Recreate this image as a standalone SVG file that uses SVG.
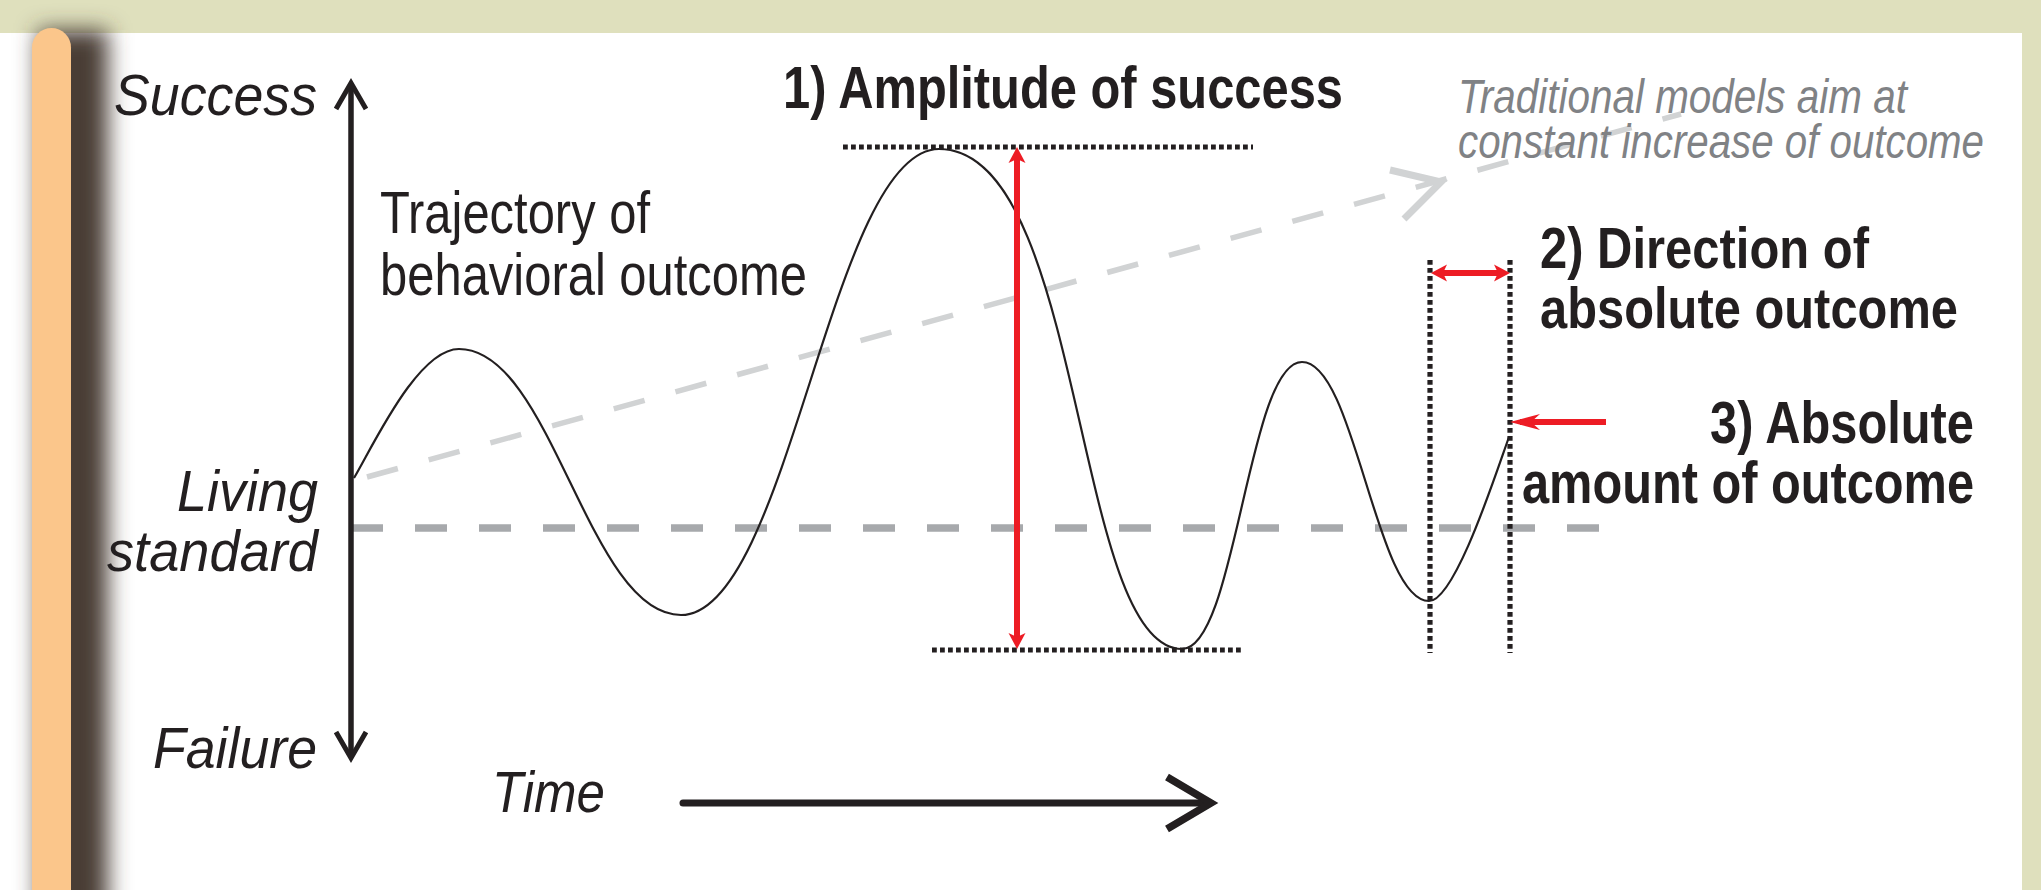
<svg xmlns="http://www.w3.org/2000/svg" width="2041" height="890" viewBox="0 0 2041 890">
<style>
.t{font-family:"Liberation Sans",Arial,sans-serif;fill:#231f20}
.it{font-style:italic}
.b{font-weight:bold}
.gray{fill:#808285}
.dot{stroke:#231f20;stroke-width:5.2;stroke-dasharray:4.8 3.2;fill:none}
.red{stroke:#ed1c24;stroke-width:6;fill:none}
</style>
<defs>
<filter id="blur" x="-100%" y="-10%" width="300%" height="120%"><feGaussianBlur stdDeviation="11"/></filter>
<marker id="chev" markerUnits="userSpaceOnUse" orient="auto-start-reverse" refX="0" refY="0" markerWidth="40" markerHeight="40" overflow="visible">
<path d="M-26,-15 L0,0 L-26,15" fill="none" stroke="#231f20" stroke-width="5"/>
</marker>
<marker id="redHead" markerUnits="userSpaceOnUse" orient="auto-start-reverse" refX="0" refY="0" markerWidth="40" markerHeight="40" overflow="visible">
<path d="M10,0 L-6,-8.5 L-2,0 L-6,8.5 Z" fill="#ed1c24"/>
</marker>
<marker id="redLong" markerUnits="userSpaceOnUse" orient="auto" refX="0" refY="0" markerWidth="50" markerHeight="40" overflow="visible">
<path d="M10,0 L-20,-8 L-11,0 L-20,8 Z" fill="#ed1c24"/>
</marker>
</defs>

<g id="background">
<rect x="0" y="0" width="2041" height="890" fill="#ffffff"/>
<rect x="0" y="0" width="2041" height="33" fill="#dfe0bd"/>
<rect x="2022" y="0" width="19" height="890" fill="#dfe0bd"/>
<rect x="38" y="30" width="70" height="900" fill="#4a3c34" filter="url(#blur)"/>
<rect x="32" y="28" width="39" height="880" rx="19.5" fill="#fbc68b"/>
</g>

<g id="connectors">
<line x1="351" y1="528" x2="1599" y2="528" stroke="#a7a9ac" stroke-width="7.5" stroke-dasharray="32 32"/>
<line x1="367" y1="477" x2="1681" y2="114" stroke="#d1d3d4" stroke-width="5.5" stroke-dasharray="32 32"/>
<polyline points="1390,170 1441,182 1404,219" fill="none" stroke="#d1d3d4" stroke-width="7"/>
<path id="trajectory" d="M354,478 C374,444 418,349 459,349 C552,349 588,615 681,615 C789,615 831,149 939,149 C1085,149 1073,649 1182,649 C1236,649 1248,362 1302,362 C1355,362 1376,601 1429,601 C1455,601 1496,473 1509,437" fill="none" stroke="#231f20" stroke-width="2.2"/>
<line class="dot" x1="843" y1="147" x2="1253" y2="147"/>
<line class="dot" x1="932" y1="650" x2="1242" y2="650"/>
<line class="dot" x1="1430" y1="260" x2="1430" y2="653"/>
<line class="dot" x1="1510" y1="260" x2="1510" y2="653"/>
<line class="red" x1="1017" y1="157" x2="1017" y2="639" marker-start="url(#redHead)" marker-end="url(#redHead)"/>
<line class="red" x1="1441" y1="273" x2="1500" y2="273" stroke-width="5" marker-start="url(#redHead)" marker-end="url(#redHead)"/>
<line class="red" x1="1606" y1="422" x2="1520" y2="422" stroke-width="5.5" marker-end="url(#redLong)"/>
<line x1="351" y1="83" x2="351" y2="758" stroke="#231f20" stroke-width="5.5" marker-start="url(#chev)" marker-end="url(#chev)"/>
<line x1="683" y1="803" x2="1208" y2="803" stroke="#231f20" stroke-width="7" stroke-linecap="round"/>
<polyline points="1167,777 1211,803 1167,829" fill="none" stroke="#231f20" stroke-width="7.5"/>
</g>

<g id="axis-labels">
<text class="t it" x="114" y="115" font-size="58" textLength="203" lengthAdjust="spacingAndGlyphs">Success</text>
<text class="t it" x="177" y="511" font-size="58" textLength="141" lengthAdjust="spacingAndGlyphs">Living</text>
<text class="t it" x="107" y="571" font-size="58" textLength="211" lengthAdjust="spacingAndGlyphs">standard</text>
<text class="t it" x="153" y="768" font-size="58" textLength="164" lengthAdjust="spacingAndGlyphs">Failure</text>
<text class="t it" x="492" y="812" font-size="58" textLength="113" lengthAdjust="spacingAndGlyphs">Time</text>
</g>

<g id="trajectory-label">
<text class="t" x="380" y="233" font-size="59" textLength="270" lengthAdjust="spacingAndGlyphs">Trajectory of</text>
<text class="t" x="380" y="295" font-size="59" textLength="427" lengthAdjust="spacingAndGlyphs">behavioral outcome</text>
</g>

<g id="traditional-label">
<text class="t it gray" x="1458" y="113" font-size="48" textLength="449" lengthAdjust="spacingAndGlyphs">Traditional models aim at</text>
<text class="t it gray" x="1458" y="158" font-size="48" textLength="526" lengthAdjust="spacingAndGlyphs">constant increase of outcome</text>
</g>

<g id="amplitude">
<text class="t b" x="783" y="108" font-size="59" textLength="560" lengthAdjust="spacingAndGlyphs">1) Amplitude of success</text>
</g>

<g id="direction">
<text class="t b" x="1540" y="268" font-size="58" textLength="329" lengthAdjust="spacingAndGlyphs">2) Direction of</text>
<text class="t b" x="1540" y="328" font-size="58" textLength="418" lengthAdjust="spacingAndGlyphs">absolute outcome</text>
</g>

<g id="absolute">
<text class="t b" x="1710" y="443" font-size="59" textLength="264" lengthAdjust="spacingAndGlyphs">3) Absolute</text>
<text class="t b" x="1522" y="503" font-size="59" textLength="452" lengthAdjust="spacingAndGlyphs">amount of outcome</text>
</g>
</svg>
